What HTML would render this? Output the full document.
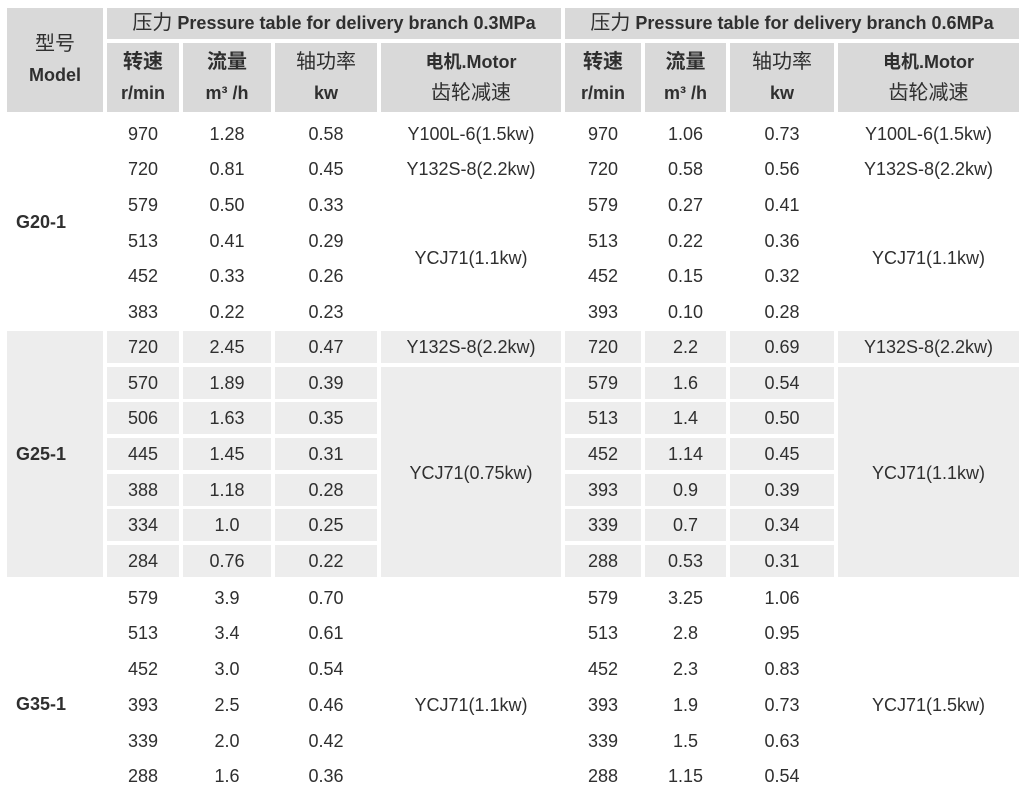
<!DOCTYPE html>
<html><head><meta charset="utf-8">
<style>
body{margin:0;background:#fff;width:1026px;height:795px;overflow:hidden;position:relative;font-family:"Liberation Sans","Noto Sans CJK SC",sans-serif;color:#2f2f2f;}
.c{position:absolute;display:flex;align-items:center;justify-content:center;font-size:18px;white-space:nowrap;}
.h{background:#d9d9d9;font-weight:bold;font-size:18px;line-height:31px;flex-direction:column;}
.k{font-weight:normal;font-size:20px}
.kb{font-size:20px}
.g{background:#ededed}
.a1{left:107px;width:72px}.a2{left:183px;width:88px}.a3{left:275px;width:102px}.a4{left:381px;width:180px}
.a5{left:565px;width:76px}.a6{left:645px;width:81px}.a7{left:730px;width:104px}.a8{left:838px;width:181px}
.r{position:absolute;left:0;width:1026px;height:32px}
.r .c{top:1px;height:32px}
.m{position:absolute;left:16px;font-weight:bold;font-size:18px;font-family:"Liberation Sans",sans-serif;color:#2f2f2f}
</style></head><body>
<div class="c h" style="left:7px;top:8px;width:96px;height:104px"><span class="k">型号</span><span>Model</span></div>
<div class="c h" style="left:107px;top:8px;width:454px;height:31px"><span><span class="k">压力</span> Pressure table for delivery branch 0.3MPa</span></div>
<div class="c h" style="left:565px;top:8px;width:454px;height:31px"><span><span class="k">压力</span> Pressure table for delivery branch 0.6MPa</span></div>
<div class="c h a1" style="top:43px;height:69px"><span class="kb">转速</span><span>r/min</span></div>
<div class="c h a2" style="top:43px;height:69px"><span class="kb">流量</span><span>m³ /h</span></div>
<div class="c h a3" style="top:43px;height:69px"><span class="k">轴功率</span><span>kw</span></div>
<div class="c h a4" style="top:43px;height:69px"><span>电机.Motor</span><span class="k">齿轮减速</span></div>
<div class="c h a5" style="top:43px;height:69px"><span class="kb">转速</span><span>r/min</span></div>
<div class="c h a6" style="top:43px;height:69px"><span class="kb">流量</span><span>m³ /h</span></div>
<div class="c h a7" style="top:43px;height:69px"><span class="k">轴功率</span><span>kw</span></div>
<div class="c h a8" style="top:43px;height:69px"><span>电机.Motor</span><span class="k">齿轮减速</span></div>

<!-- G20 -->
<div class="m" style="top:212px">G20-1</div>
<div class="r" style="top:117px"><div class="c a1">970</div><div class="c a2">1.28</div><div class="c a3">0.58</div><div class="c a4">Y100L-6(1.5kw)</div><div class="c a5">970</div><div class="c a6">1.06</div><div class="c a7">0.73</div><div class="c a8">Y100L-6(1.5kw)</div></div>
<div class="r" style="top:152px"><div class="c a1">720</div><div class="c a2">0.81</div><div class="c a3">0.45</div><div class="c a4">Y132S-8(2.2kw)</div><div class="c a5">720</div><div class="c a6">0.58</div><div class="c a7">0.56</div><div class="c a8">Y132S-8(2.2kw)</div></div>
<div class="r" style="top:188px"><div class="c a1">579</div><div class="c a2">0.50</div><div class="c a3">0.33</div><div class="c a5">579</div><div class="c a6">0.27</div><div class="c a7">0.41</div></div>
<div class="r" style="top:224px"><div class="c a1">513</div><div class="c a2">0.41</div><div class="c a3">0.29</div><div class="c a5">513</div><div class="c a6">0.22</div><div class="c a7">0.36</div></div>
<div class="r" style="top:241px"><div class="c a4">YCJ71(1.1kw)</div><div class="c a8">YCJ71(1.1kw)</div></div>
<div class="r" style="top:259px"><div class="c a1">452</div><div class="c a2">0.33</div><div class="c a3">0.26</div><div class="c a5">452</div><div class="c a6">0.15</div><div class="c a7">0.32</div></div>
<div class="r" style="top:295px"><div class="c a1">383</div><div class="c a2">0.22</div><div class="c a3">0.23</div><div class="c a5">393</div><div class="c a6">0.10</div><div class="c a7">0.28</div></div>

<!-- G25 -->
<div class="c g" style="left:7px;top:331px;width:96px;height:246px"></div>
<div class="m" style="top:444px">G25-1</div>
<div class="c g a4" style="top:367px;height:210px;padding-top:2px;box-sizing:border-box">YCJ71(0.75kw)</div>
<div class="c g a8" style="top:367px;height:210px;padding-top:2px;box-sizing:border-box">YCJ71(1.1kw)</div>
<div class="r" style="top:331px"><div class="c g a1" style="top:0">720</div><div class="c g a2" style="top:0">2.45</div><div class="c g a3" style="top:0">0.47</div><div class="c g a4" style="top:0">Y132S-8(2.2kw)</div><div class="c g a5" style="top:0">720</div><div class="c g a6" style="top:0">2.2</div><div class="c g a7" style="top:0">0.69</div><div class="c g a8" style="top:0">Y132S-8(2.2kw)</div></div>
<div class="r" style="top:367px"><div class="c g a1" style="top:0">570</div><div class="c g a2" style="top:0">1.89</div><div class="c g a3" style="top:0">0.39</div><div class="c g a5" style="top:0">579</div><div class="c g a6" style="top:0">1.6</div><div class="c g a7" style="top:0">0.54</div></div>
<div class="r" style="top:402px"><div class="c g a1" style="top:0">506</div><div class="c g a2" style="top:0">1.63</div><div class="c g a3" style="top:0">0.35</div><div class="c g a5" style="top:0">513</div><div class="c g a6" style="top:0">1.4</div><div class="c g a7" style="top:0">0.50</div></div>
<div class="r" style="top:438px"><div class="c g a1" style="top:0">445</div><div class="c g a2" style="top:0">1.45</div><div class="c g a3" style="top:0">0.31</div><div class="c g a5" style="top:0">452</div><div class="c g a6" style="top:0">1.14</div><div class="c g a7" style="top:0">0.45</div></div>
<div class="r" style="top:474px"><div class="c g a1" style="top:0">388</div><div class="c g a2" style="top:0">1.18</div><div class="c g a3" style="top:0">0.28</div><div class="c g a5" style="top:0">393</div><div class="c g a6" style="top:0">0.9</div><div class="c g a7" style="top:0">0.39</div></div>
<div class="r" style="top:509px"><div class="c g a1" style="top:0">334</div><div class="c g a2" style="top:0">1.0</div><div class="c g a3" style="top:0">0.25</div><div class="c g a5" style="top:0">339</div><div class="c g a6" style="top:0">0.7</div><div class="c g a7" style="top:0">0.34</div></div>
<div class="r" style="top:545px"><div class="c g a1" style="top:0">284</div><div class="c g a2" style="top:0">0.76</div><div class="c g a3" style="top:0">0.22</div><div class="c g a5" style="top:0">288</div><div class="c g a6" style="top:0">0.53</div><div class="c g a7" style="top:0">0.31</div></div>

<!-- G35 -->
<div class="m" style="top:694px">G35-1</div>
<div class="r" style="top:581px"><div class="c a1">579</div><div class="c a2">3.9</div><div class="c a3">0.70</div><div class="c a5">579</div><div class="c a6">3.25</div><div class="c a7">1.06</div></div>
<div class="r" style="top:616px"><div class="c a1">513</div><div class="c a2">3.4</div><div class="c a3">0.61</div><div class="c a5">513</div><div class="c a6">2.8</div><div class="c a7">0.95</div></div>
<div class="r" style="top:652px"><div class="c a1">452</div><div class="c a2">3.0</div><div class="c a3">0.54</div><div class="c a5">452</div><div class="c a6">2.3</div><div class="c a7">0.83</div></div>
<div class="r" style="top:688px"><div class="c a1">393</div><div class="c a2">2.5</div><div class="c a3">0.46</div><div class="c a4">YCJ71(1.1kw)</div><div class="c a5">393</div><div class="c a6">1.9</div><div class="c a7">0.73</div><div class="c a8">YCJ71(1.5kw)</div></div>
<div class="r" style="top:724px"><div class="c a1">339</div><div class="c a2">2.0</div><div class="c a3">0.42</div><div class="c a5">339</div><div class="c a6">1.5</div><div class="c a7">0.63</div></div>
<div class="r" style="top:759px"><div class="c a1">288</div><div class="c a2">1.6</div><div class="c a3">0.36</div><div class="c a5">288</div><div class="c a6">1.15</div><div class="c a7">0.54</div></div>
</body></html>
